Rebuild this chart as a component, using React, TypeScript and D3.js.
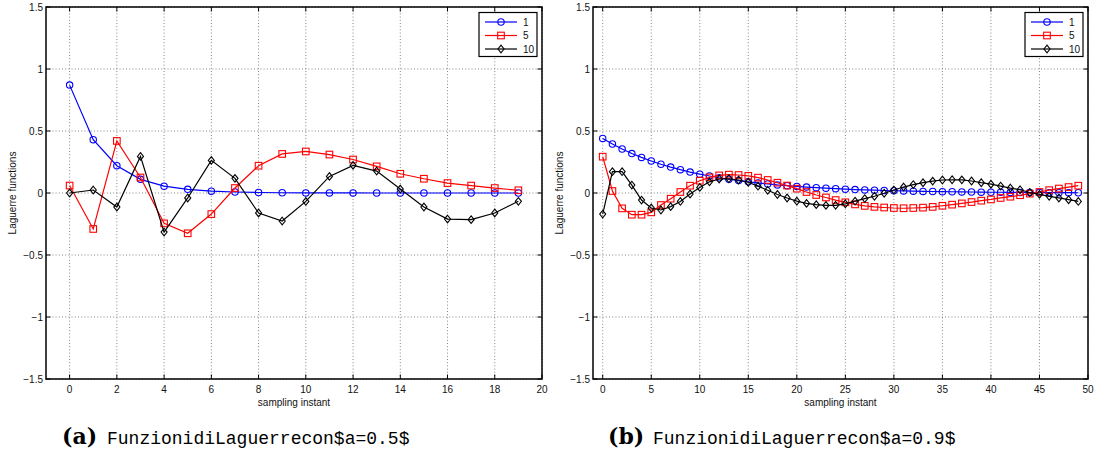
import React from "react";
import * as d3 from "d3";

// ---------- data ----------
const seriesNames = ["1", "5", "10"];
const seriesColors = ["#0000ff", "#ff0000", "#000000"];

const lag1A05 = [0.87, 0.43, 0.22, 0.11, 0.055, 0.03, 0.015, 0.008, 0.004, 0.002, 0.001, 0.0005, 0.0003, 0.0001, 0, 0, 0, 0, 0, 0];
const lag5A05 = [0.06, -0.29, 0.42, 0.125, -0.245, -0.325, -0.17, 0.04, 0.22, 0.315, 0.335, 0.31, 0.27, 0.215, 0.155, 0.115, 0.08, 0.06, 0.04, 0.022];
const lag10A05 = [0.0, 0.024, -0.113, 0.295, -0.315, -0.04, 0.263, 0.118, -0.161, -0.226, -0.068, 0.134, 0.223, 0.177, 0.032, -0.113, -0.21, -0.215, -0.161, -0.067];

const lag1A09 = [0.44, 0.395, 0.355, 0.318, 0.287, 0.258, 0.232, 0.209, 0.188, 0.169, 0.152, 0.137, 0.123, 0.111, 0.1, 0.09, 0.081, 0.073, 0.065, 0.059, 0.053, 0.048, 0.043, 0.039, 0.035, 0.031, 0.028, 0.025, 0.023, 0.02, 0.018, 0.017, 0.015, 0.013, 0.012, 0.011, 0.01, 0.009, 0.008, 0.007, 0.006, 0.006, 0.005, 0.005, 0.004, 0.004, 0.003, 0.003, 0.003, 0.002];
const lag5A09 = [0.293, 0.016, -0.124, -0.175, -0.175, -0.156, -0.097, -0.046, 0.008, 0.059, 0.099, 0.126, 0.142, 0.148, 0.145, 0.138, 0.124, 0.105, 0.083, 0.06, 0.035, 0.008, -0.016, -0.036, -0.057, -0.075, -0.092, -0.104, -0.112, -0.117, -0.121, -0.123, -0.121, -0.118, -0.112, -0.103, -0.094, -0.084, -0.073, -0.062, -0.052, -0.04, -0.03, -0.018, -0.005, 0.008, 0.023, 0.036, 0.048, 0.059];
const lag10A09 = [-0.17, 0.172, 0.172, 0.064, -0.057, -0.121, -0.137, -0.11, -0.068, -0.008, 0.045, 0.09, 0.113, 0.115, 0.105, 0.087, 0.055, 0.022, -0.012, -0.04, -0.066, -0.084, -0.094, -0.1, -0.099, -0.087, -0.066, -0.045, -0.026, -0.002, 0.024, 0.048, 0.068, 0.083, 0.096, 0.105, 0.107, 0.106, 0.097, 0.083, 0.071, 0.056, 0.04, 0.026, 0.004, -0.011, -0.027, -0.04, -0.054, -0.068];

const yTicks = [-1.5, -1, -0.5, 0, 0.5, 1, 1.5];
const xTicksA05 = [0, 2, 4, 6, 8, 10, 12, 14, 16, 18, 20];
const xTicksA09 = [0, 5, 10, 15, 20, 25, 30, 35, 40, 45, 50];

const yLabel = "Laguerre functions";
const xLabel = "sampling instant";
const captionA = ["(a)", "FunzionidiLaguerrecon$a=0.5$"];
const captionB = ["(b)", "FunzionidiLaguerrecon$a=0.9$"];

const FONT = "'Liberation Sans', Arial, Helvetica, sans-serif";

type PanelProps = {
  left: number;
  right: number;
  xMax: number;
  xTicks: number[];
  series: number[][];
};

function fmt(v: number) {
  return String(v).replace("-", "\u2212");
}

function Marker({ kind, x, y, color }: { kind: number; x: number; y: number; color: string }) {
  if (kind === 0) return <circle cx={x} cy={y} r={3.2} fill="none" stroke={color} strokeWidth={1.1} />;
  if (kind === 1)
    return <rect x={x - 3.3} y={y - 3.3} width={6.6} height={6.6} fill="none" stroke={color} strokeWidth={1.1} />;
  const s = 3.8;
  return (
    <path
      d={`M${x},${y - s}L${x + s * 0.8},${y}L${x},${y + s}L${x - s * 0.8},${y}Z`}
      fill="none"
      stroke={color}
      strokeWidth={1.1}
    />
  );
}

function Panel({ left, right, xMax, xTicks, series }: PanelProps) {
  const top = 7;
  const bottom = 379;
  const x = d3.scaleLinear().domain([-1, xMax]).range([left, right]);
  const y = d3.scaleLinear().domain([-1.5, 1.5]).range([bottom, top]);
  const line = d3
    .line<number>()
    .x((_, i) => x(i))
    .y((d) => y(d));
  const tk = 4.5;
  const legX0 = right - 63;
  return (
    <g>
      {/* grid */}
      {xTicks.map((t) => (
        <line key={"gx" + t} x1={x(t)} x2={x(t)} y1={top} y2={bottom} stroke="#666" strokeWidth={0.8} strokeDasharray="1,2.2" />
      ))}
      {yTicks.map((t) => (
        <line key={"gy" + t} x1={left} x2={right} y1={y(t)} y2={y(t)} stroke="#666" strokeWidth={0.8} strokeDasharray="1,2.2" />
      ))}
      {/* ticks */}
      {xTicks.map((t) => (
        <g key={"tx" + t}>
          <line x1={x(t)} x2={x(t)} y1={bottom} y2={bottom - tk} stroke="#000" />
          <line x1={x(t)} x2={x(t)} y1={top} y2={top + tk} stroke="#000" />
          <text x={x(t)} y={392.5} fontSize={10} fontFamily={FONT} textAnchor="middle" fill="#111">
            {t}
          </text>
        </g>
      ))}
      {yTicks.map((t) => (
        <g key={"ty" + t}>
          <line x1={left} x2={left + tk} y1={y(t)} y2={y(t)} stroke="#000" />
          <line x1={right} x2={right - tk} y1={y(t)} y2={y(t)} stroke="#000" />
          <text x={left - 3} y={y(t) + 3.5} fontSize={10} fontFamily={FONT} textAnchor="end" fill="#111">
            {fmt(t)}
          </text>
        </g>
      ))}
      {/* series */}
      {series.map((s, k) => (
        <g key={"s" + k}>
          <path d={line(s) || ""} fill="none" stroke={seriesColors[k]} strokeWidth={1.2} />
          {s.map((v, i) => (
            <Marker key={i} kind={k} x={x(i)} y={y(v)} color={seriesColors[k]} />
          ))}
        </g>
      ))}
      {/* frame */}
      <rect x={left} y={top} width={right - left} height={bottom - top} fill="none" stroke="#000" strokeWidth={1.5} />
      {/* legend */}
      <rect x={legX0} y={12.5} width={58} height={44} fill="#fff" stroke="#000" strokeWidth={1.2} />
      {seriesNames.map((n, k) => {
        const ly = 22 + k * 13.5;
        return (
          <g key={"lg" + k}>
            <line x1={legX0 + 6} x2={legX0 + 38} y1={ly} y2={ly} stroke={seriesColors[k]} strokeWidth={1.2} />
            <Marker kind={k} x={legX0 + 22} y={ly} color={seriesColors[k]} />
            <text x={legX0 + 44} y={ly + 3.5} fontSize={10} fontFamily={FONT} fill="#111">
              {n}
            </text>
          </g>
        );
      })}
      {/* labels */}
      <text x={(left + right) / 2} y={405.5} fontSize={10} fontFamily={FONT} textAnchor="middle" fill="#111">
        {xLabel}
      </text>
      <text
        transform={`translate(${left - 30},${(top + bottom) / 2}) rotate(-90)`}
        fontSize={10}
        fontFamily={FONT}
        textAnchor="middle"
        fill="#111"
      >
        {yLabel}
      </text>
    </g>
  );
}

function Caption({ x, parts }: { x: number; parts: string[] }) {
  return (
    <g>
      <text x={x} y={444} fontSize={22} fontWeight="bold" fontFamily="'DejaVu Serif', 'Liberation Serif', serif" fill="#000">
        {parts[0]}
      </text>
      <text x={x + 45} y={444} fontSize={18} fontFamily="'Liberation Mono', 'DejaVu Sans Mono', monospace" fill="#000">
        {parts[1]}
      </text>
    </g>
  );
}

export default function App() {
  return (
    <div style={{ position: "absolute", left: 0, top: 0 }}>
      <svg width={1097} height={457} style={{ display: "block", background: "#fff" }}>
        <rect width={1097} height={457} fill="#fff" />
        <Panel left={46} right={542} xMax={20} xTicks={xTicksA05} series={[lag1A05, lag5A05, lag10A05]} />
        <Panel left={593} right={1088} xMax={50} xTicks={xTicksA09} series={[lag1A09, lag5A09, lag10A09]} />
        <Caption x={62} parts={captionA} />
        <Caption x={608} parts={captionB} />
      </svg>
    </div>
  );
}
